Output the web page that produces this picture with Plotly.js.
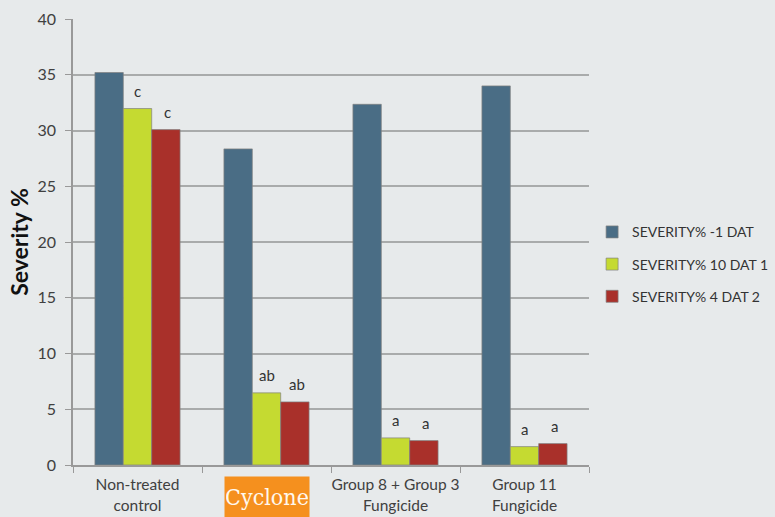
<!DOCTYPE html>
<html>
<head>
<meta charset="utf-8">
<script src="https://cdn.plot.ly/plotly-3.0.1.min.js"></script>
<style>html,body{margin:0;padding:0;background:#e7eaeb;}</style>
</head>
<body>
<div id="chart" style="width:775px;height:517px;"></div>
<script>
const categories = ["Non-treated control", "Cyclone", "Group 8 + Group 3 Fungicide", "Group 11 Fungicide"];
const tickLabels = ["Non-treated<br>control", " ", "Group 8 + Group 3<br>Fungicide", "Group 11<br>Fungicide"];
const seriesNames = ["SEVERITY% -1 DAT", "SEVERITY% 10 DAT 1", "SEVERITY% 4 DAT 2"];
const sevMinus1 = [35.2, 28.35, 32.35, 34.0];
const sev10 = [31.97, 6.47, 2.43, 1.65];
const sev4 = [30.08, 5.66, 2.19, 1.92];
const letters10 = ["c", "ab", "a", "a"];
const letters4 = ["c", "ab", "a", "a"];
const colors = ["#4a6d85", "#c5da31", "#a9302a"];

const seriesVals = [sevMinus1, sev10, sev4];
const traces = seriesVals.map((vals, i) => ({
  type: 'bar',
  name: seriesNames[i],
  x: categories,
  y: vals,
  legendgroup: 'g' + i,
  marker: {color: colors[i], line: {color: 'rgba(130,130,130,0.7)', width: 1}},
  hoverinfo: 'y'
}));

const annotations = [];
categories.forEach((c, j) => {
  annotations.push({x: c, y: sev10[j], xref: 'x', yref: 'y', text: letters10[j], showarrow: false,
    yanchor: 'bottom', yshift: 7, xshift: 0, font: {family: 'Lato, sans-serif', size: 15, color: '#333'}});
  annotations.push({x: c, y: sev4[j], xref: 'x', yref: 'y', text: letters4[j], showarrow: false,
    yanchor: 'bottom', yshift: 7, xshift: 30, font: {family: 'Lato, sans-serif', size: 15, color: '#333'}});
});
annotations.push({x: categories[1], xref: 'x', y: -0.072, yref: 'paper', text: 'Cyclone', showarrow: false,
  yanchor: 'middle', bgcolor: '#f5901e', width: 82, height: 38,
  font: {family: '"DejaVu Serif Condensed", "Liberation Serif", serif', size: 23, color: '#fff8ee'}});

const layout = {
  width: 775, height: 517,
  paper_bgcolor: '#e7eaeb', plot_bgcolor: '#e7eaeb',
  margin: {l: 73, r: 186, t: 19, b: 52, autoexpand: false},
  barmode: 'group', bargap: 0.34, bargroupgap: 0,
  font: {family: 'Lato, sans-serif', color: '#404040'},
  xaxis: {
    type: 'category', tickvals: categories, ticktext: tickLabels, tickangle: 0,
    tickson: 'boundaries', ticks: 'outside', ticklen: 6, tickcolor: '#999',
    showline: true, linecolor: '#999', linewidth: 1.5, showgrid: false,
    tickfont: {size: 15.5, color: '#404040'}, ticklabelstandoff: 5, automargin: false
  },
  yaxis: {
    range: [0, 40], dtick: 5, ticks: 'outside', ticklen: 6, tickcolor: '#999',
    showline: true, linecolor: '#999', linewidth: 1.5,
    gridcolor: '#a9abab', gridwidth: 1.5, zeroline: false,
    tickfont: {size: 16, color: '#404040'}, ticklabelstandoff: 6, automargin: false,
    title: {text: '<b>Severity %</b>', font: {size: 23, color: '#111'}, standoff: 2}
  },
  legend: {
    x: 1.006, xanchor: 'left', y: 0.45, yanchor: 'middle',
    traceorder: 'grouped', tracegroupgap: 11,
    font: {size: 14, color: '#333'}, bgcolor: 'rgba(0,0,0,0)'
  },
  annotations: annotations
};

Plotly.newPlot('chart', traces, layout, {displayModeBar: false});
</script>
</body>
</html>
